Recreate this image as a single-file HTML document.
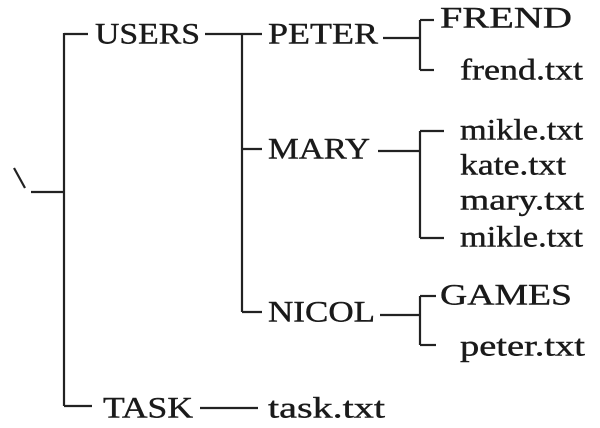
<!DOCTYPE html>
<html><head><style>body{margin:0;background:#fff}svg{display:block}</style></head><body>
<svg width="600" height="428" xmlns="http://www.w3.org/2000/svg">
<g stroke="#222" stroke-width="2.2" fill="none">
<line x1="14" y1="168" x2="25" y2="188"/>
<line x1="31" y1="192" x2="64" y2="192"/>
<line x1="64" y1="33" x2="64" y2="406"/>
<line x1="64" y1="34" x2="88" y2="34"/>
<line x1="64" y1="406" x2="92" y2="406"/>
<line x1="205" y1="34" x2="262" y2="34"/>
<line x1="242" y1="34" x2="242" y2="312"/>
<line x1="242" y1="149" x2="262" y2="149"/>
<line x1="242" y1="312" x2="262" y2="312"/>
<line x1="383" y1="38" x2="420" y2="38"/>
<line x1="420" y1="20" x2="420" y2="70"/>
<line x1="420" y1="20" x2="434" y2="20"/>
<line x1="420" y1="70" x2="434" y2="70"/>
<line x1="378" y1="151" x2="420" y2="151"/>
<line x1="420" y1="131" x2="420" y2="238"/>
<line x1="420" y1="131" x2="444" y2="131"/>
<line x1="420" y1="238" x2="444" y2="238"/>
<line x1="380" y1="315" x2="420" y2="315"/>
<line x1="420" y1="296" x2="420" y2="345"/>
<line x1="420" y1="296" x2="436" y2="296"/>
<line x1="420" y1="345" x2="436" y2="345"/>
<line x1="200" y1="408" x2="258" y2="408"/>
</g>
<g font-family="Liberation Serif, serif" font-size="30" fill="#1a1a1a" stroke="#1a1a1a" stroke-width="0.4" dominant-baseline="central" lengthAdjust="spacingAndGlyphs">
<text x="95" y="34" textLength="105" lengthAdjust="spacingAndGlyphs">USERS</text>
<text x="268" y="34" textLength="110" lengthAdjust="spacingAndGlyphs">PETER</text>
<text x="440" y="18" textLength="132" lengthAdjust="spacingAndGlyphs">FREND</text>
<text x="460" y="70" textLength="123" lengthAdjust="spacingAndGlyphs">frend.txt</text>
<text x="268" y="149" textLength="102" lengthAdjust="spacingAndGlyphs">MARY</text>
<text x="460" y="130" textLength="123" lengthAdjust="spacingAndGlyphs">mikle.txt</text>
<text x="460" y="165" textLength="106" lengthAdjust="spacingAndGlyphs">kate.txt</text>
<text x="460" y="200" textLength="124" lengthAdjust="spacingAndGlyphs">mary.txt</text>
<text x="460" y="237" textLength="123" lengthAdjust="spacingAndGlyphs">mikle.txt</text>
<text x="268" y="312" textLength="107" lengthAdjust="spacingAndGlyphs">NICOL</text>
<text x="440" y="295" textLength="132" lengthAdjust="spacingAndGlyphs">GAMES</text>
<text x="460" y="346" textLength="125" lengthAdjust="spacingAndGlyphs">peter.txt</text>
<text x="103" y="408" textLength="90" lengthAdjust="spacingAndGlyphs">TASK</text>
<text x="268" y="408" textLength="117" lengthAdjust="spacingAndGlyphs">task.txt</text>
</g>
</svg>
</body></html>
